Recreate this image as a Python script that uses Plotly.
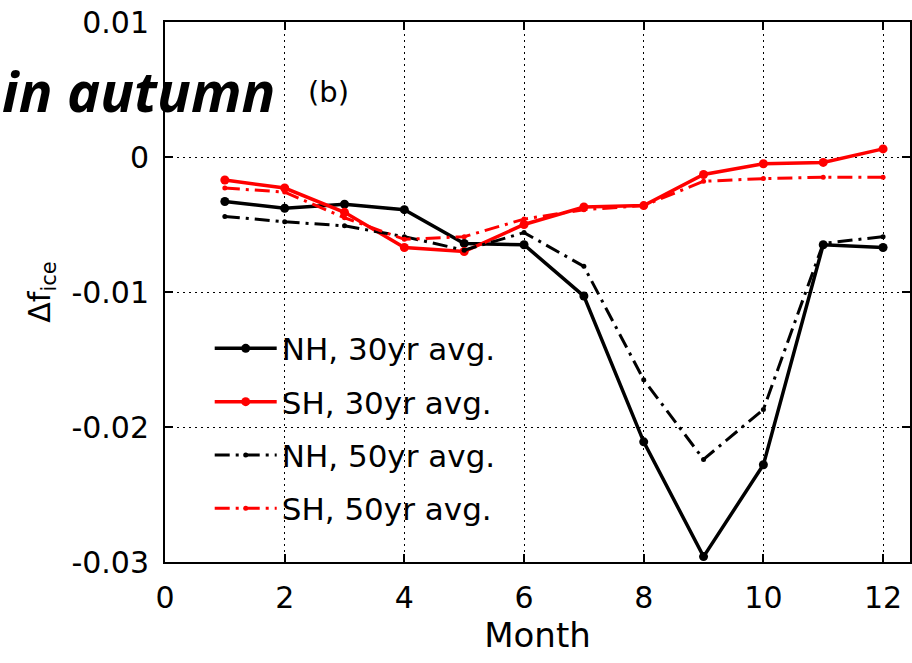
import plotly.graph_objects as go

# Monthly change in sea-ice fraction
months = [1, 2, 3, 4, 5, 6, 7, 8, 9, 10, 11, 12]
nh_30yr = [-0.0033, -0.0038, -0.0035, -0.0039, -0.0064, -0.0065,
           -0.0103, -0.0211, -0.0296, -0.0228, -0.0065, -0.0067]
sh_30yr = [-0.0017, -0.0023, -0.0041, -0.0067, -0.0070, -0.0050,
           -0.0037, -0.0036, -0.0013, -0.0005, -0.0004, 0.0006]
nh_50yr = [-0.0044, -0.0048, -0.0051, -0.0059, -0.0069, -0.0056,
           -0.0081, -0.0165, -0.0224, -0.0187, -0.0064, -0.0059]
sh_50yr = [-0.0023, -0.0026, -0.0045, -0.0061, -0.0059, -0.0046,
           -0.0039, -0.0036, -0.0018, -0.0016, -0.0015, -0.0015]

x_ticks = [0, 2, 4, 6, 8, 10, 12]
y_ticks = [0.01, 0, -0.01, -0.02, -0.03]
y_tick_text = ["0.01", "0", "-0.01", "-0.02", "-0.03"]

FONT = "DejaVu Sans"
DASHDOT = "15px,6px,3px,6px"

series = [
    ("NH, 30yr avg.", nh_30yr, "black", "solid", 9, 3.5),
    ("SH, 30yr avg.", sh_30yr, "red", "solid", 9, 3.5),
    ("NH, 50yr avg.", nh_50yr, "black", DASHDOT, 5, 3),
    ("SH, 50yr avg.", sh_50yr, "red", DASHDOT, 5, 3),
]

fig = go.Figure()
for i, (name, vals, color, dash, msize, lw) in enumerate(series):
    fig.add_trace(go.Scatter(
        x=months, y=vals, name=name, mode="lines+markers",
        legendgroup=f"g{i}",
        line=dict(color=color, width=lw, dash=dash),
        marker=dict(color=color, size=msize, symbol="circle"),
    ))

fig.update_layout(
    width=912, height=663,
    margin=dict(l=165, r=0, t=22, b=101),
    plot_bgcolor="white", paper_bgcolor="white",
    font=dict(family=FONT, size=30, color="black"),
    showlegend=True,
    legend=dict(
        x=0.06, y=0.445, xanchor="left", yanchor="top",
        bgcolor="rgba(0,0,0,0)", borderwidth=0,
        font=dict(family=FONT, size=31, color="black"),
        tracegroupgap=10, itemwidth=62,
    ),
    annotations=[
        dict(text="<b><i>in autumn</i></b>", xref="paper", yref="paper",
             x=-0.222, y=1.0 - (90 - 22) / 540, xanchor="left", yanchor="middle",
             showarrow=False, font=dict(family="Open Sans", size=56, color="black")),
        dict(text="(b)", xref="paper", yref="paper",
             x=(329 - 165) / 747, y=1.0 - (92 - 22) / 540, xanchor="center", yanchor="middle",
             showarrow=False, font=dict(family=FONT, size=29, color="black")),
    ],
)

fig.update_xaxes(
    range=[0, 12.45], tickvals=x_ticks, ticktext=[str(v) for v in x_ticks],
    ticks="inside", ticklen=8, tickwidth=1.5, tickcolor="black",
    showline=True, linecolor="black", linewidth=2, mirror="ticks",
    showgrid=True, gridcolor="black", gridwidth=1, griddash="1.5px,4.5px",
    zeroline=False, tickfont=dict(family=FONT, size=30),
    ticklabelstandoff=8,
    title=dict(text="Month", font=dict(family=FONT, size=34), standoff=6),
)
fig.update_yaxes(
    range=[-0.03, 0.01], tickvals=y_ticks, ticktext=y_tick_text,
    ticks="inside", ticklen=8, tickwidth=1.5, tickcolor="black",
    showline=True, linecolor="black", linewidth=2, mirror="ticks",
    showgrid=True, gridcolor="black", gridwidth=1, griddash="1.5px,4.5px",
    zeroline=False, tickfont=dict(family=FONT, size=30),
    ticklabelstandoff=8,
    title=dict(text="Δf<sub>ice</sub>", font=dict(family=FONT, size=30), standoff=12),
)

fig.write_html("out.html")
